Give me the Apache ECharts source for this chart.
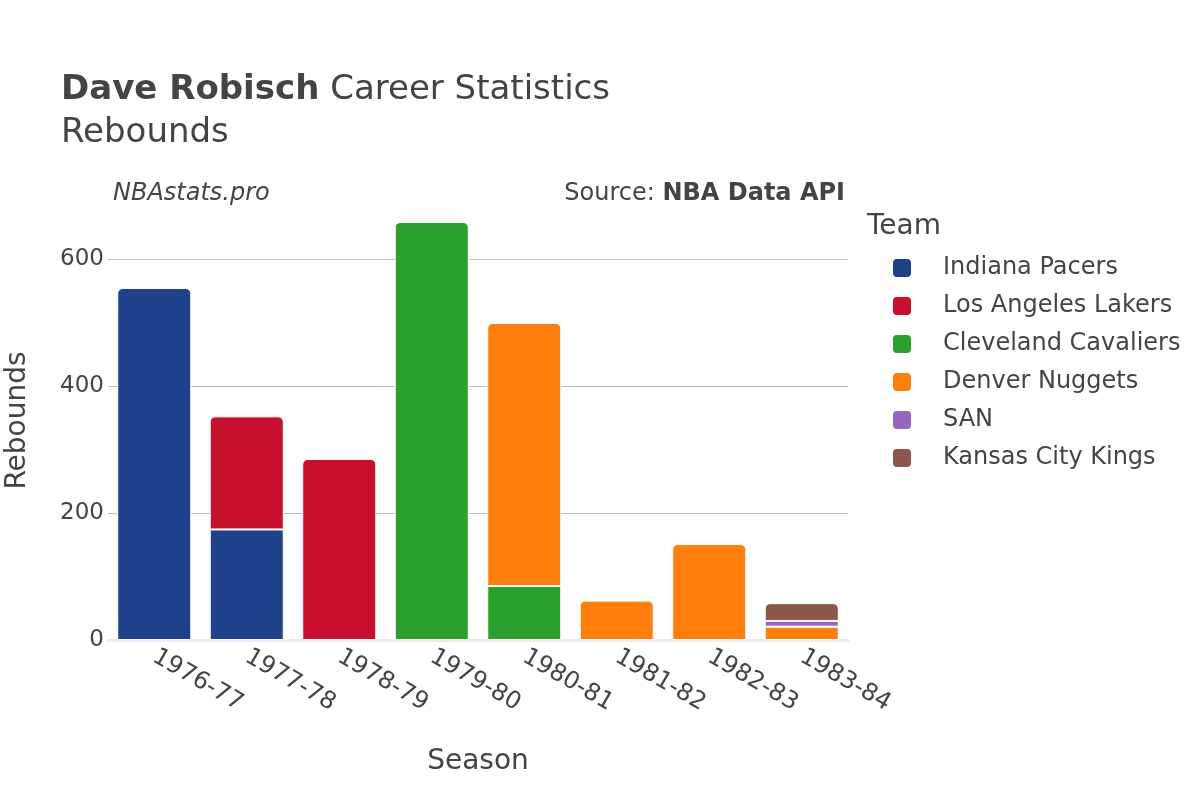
<!DOCTYPE html>
<html>
<head>
<meta charset="utf-8">
<title>Dave Robisch Career Statistics</title>
<script src="https://cdn.jsdelivr.net/npm/echarts@6/dist/echarts.min.js"></script>
<style>
  html, body { margin: 0; padding: 0; background: #fff; }
</style>
</head>
<body>
<div id="mainChart" style="width: 1200px; height: 800px"></div>
<script>
const seasons = ["1976-77", "1977-78", "1978-79", "1979-80", "1980-81", "1981-82", "1982-83", "1983-84"];
const teams = ["Indiana Pacers", "Los Angeles Lakers", "Cleveland Cavaliers", "Denver Nuggets", "SAN", "Kansas City Kings"];
const teamColors = ["#1d428a", "#c8102e", "#2ca02c", "#ff7f0e", "#9467bd", "#8c564b"];

// rebounds per team per season (null = did not play there)
const indianaPacers = [554, 174, null, null, null, null, null, null];
const losAngelesLakers = [null, 178, 285, null, null, null, null, null];
const clevelandCavaliers = [null, null, null, 658, 85, null, null, null];
const denverNuggets = [null, null, null, null, 414, 62, 151, 21];
const san = [null, null, null, null, null, null, null, 9];
const kansasCityKings = [null, null, null, null, null, null, null, 28];

const yTicks = [0, 200, 400, 600];

const FONT = "DejaVu Sans";
const TEXT = "#444";

let chart = null;

function initChart() {
  const all = [indianaPacers, losAngelesLakers, clevelandCavaliers, denverNuggets, san, kansasCityKings];

  // last team with a value in each season gets the rounded top
  const topIdx = seasons.map((s, i) => {
    let top = -1;
    all.forEach((arr, k) => {
      if (arr[i] != null) top = k;
    });
    return top;
  });

  const series = all.map((arr, k) => ({
    name: teams[k],
    type: "bar",
    stack: "reb",
    barCategoryGap: "20%",
    itemStyle: {
      color: teamColors[k],
      borderColor: "#fff",
      borderWidth: 1
    },
    data: arr.map((v, i) => ({
      value: v,
      itemStyle: { borderRadius: topIdx[i] === k ? [5, 5, 0, 0] : 0 }
    }))
  }));

  chart.setOption({
    animation: false,
    textStyle: { fontFamily: FONT, color: TEXT },
    graphic: [
      {
        type: "text", left: 61, top: 73,
        style: {
          text: "{b|Dave Robisch} Career Statistics",
          font: "34px " + FONT, fill: TEXT,
          rich: { b: { fontWeight: "bold", fontSize: 34, fontFamily: FONT, fill: TEXT } }
        }
      },
      {
        type: "text", left: 61, top: 116,
        style: { text: "Rebounds", font: "34px " + FONT, fill: TEXT }
      },
      {
        type: "text", left: 113, top: 182,
        style: { text: "NBAstats.pro", font: "italic 24px " + FONT, fill: TEXT }
      },
      {
        type: "text", right: 355, top: 182,
        style: {
          text: "Source: {b|NBA Data API}",
          font: "24px " + FONT, fill: TEXT,
          rich: { b: { fontWeight: "bold", fontSize: 24, fontFamily: FONT, fill: TEXT } }
        }
      },
      {
        type: "text", left: 867, top: 213,
        style: { text: "Team", font: "28px " + FONT, fill: TEXT }
      }
    ],
    legend: {
      orient: "vertical",
      left: 891,
      top: 256,
      padding: 0,
      icon: "roundRect",
      itemWidth: 20,
      itemHeight: 20,
      itemGap: 14,
      textStyle: { fontSize: 24, color: TEXT, fontFamily: FONT, lineHeight: 24, padding: [0, 0, 0, 26] },
      data: teams
    },
    grid: { left: 108, right: 352, top: 201, bottom: 160, outerBoundsMode: "none" },
    xAxis: {
      type: "category",
      data: seasons,
      name: "Season",
      nameLocation: "middle",
      nameGap: 108,
      nameTextStyle: { fontSize: 28, color: TEXT, fontFamily: FONT },
      axisTick: { show: false },
      axisLine: { show: true, lineStyle: { color: "#ebebeb", width: 3 } },
      axisLabel: { rotate: -30, fontSize: 24, color: TEXT, fontFamily: FONT, margin: 15 }
    },
    yAxis: {
      type: "value",
      min: 0,
      max: 691,
      interval: 200,
      name: "Rebounds",
      nameLocation: "middle",
      nameGap: 76,
      nameTextStyle: { fontSize: 28, color: TEXT, fontFamily: FONT },
      axisLine: { show: false },
      axisTick: { show: false },
      splitLine: { showMaxLine: false, lineStyle: { color: "#bdbdbd", width: 1 } },
      axisLabel: {
        fontSize: 23, color: TEXT, fontFamily: FONT, margin: 4,
        showMaxLabel: false,
        formatter: v => (yTicks.indexOf(v) >= 0 ? String(v) : "")
      }
    },
    series: series
  });
}

chart = echarts.init(document.getElementById("mainChart"));
initChart();
</script>
</body>
</html>
